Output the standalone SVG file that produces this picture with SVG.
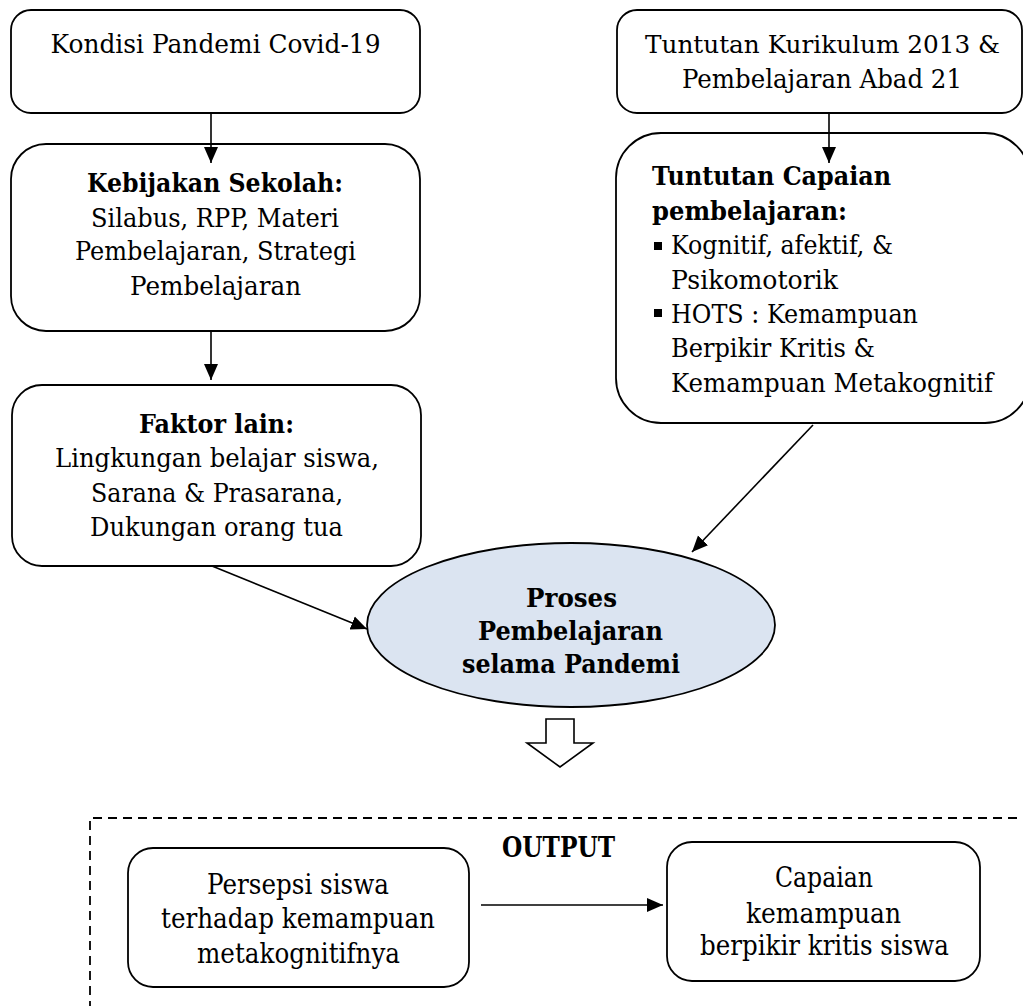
<svg xmlns="http://www.w3.org/2000/svg" width="1023" height="1006" viewBox="0 0 1023 1006">
<defs>
<style>
.box{fill:#fff;stroke:#000;stroke-width:1.8}
.t{font-family:"DejaVu Serif","Liberation Serif",serif;font-size:26.5px;fill:#000}
.s{font-size:27.5px}
.m{font-size:25px}
.c{text-anchor:middle}
.b{font-weight:bold}
.ln{stroke:#000;stroke-width:1.6;fill:none}
.dash{stroke:#000;stroke-width:1.8;fill:none;stroke-dasharray:9 6}
</style>
<marker id="ah" markerUnits="userSpaceOnUse" markerWidth="16" markerHeight="16" viewBox="0 0 16 16" refX="16" refY="8" orient="auto"><path d="M0,1 L16,8 L0,15 Z" fill="#000"/></marker>
<clipPath id="ec"><rect x="300" y="540" width="600" height="134"/></clipPath>
</defs>
<rect width="1023" height="1006" fill="#fff"/>

<g id="kondisi">
<rect class="box" x="11" y="10" width="409" height="103" rx="20"/>
<text class="t c" x="215.5" y="53" textLength="330" lengthAdjust="spacingAndGlyphs">Kondisi Pandemi Covid-19</text>
</g>

<g id="kebijakan">
<rect class="box" x="11" y="144" width="409" height="187" rx="35"/>
<text class="t c b" x="215" y="192" textLength="256" lengthAdjust="spacingAndGlyphs">Kebijakan Sekolah:</text>
<text class="t c" x="215" y="227" textLength="248" lengthAdjust="spacingAndGlyphs">Silabus, RPP, Materi</text>
<text class="t c" x="215.5" y="260" textLength="281" lengthAdjust="spacingAndGlyphs">Pembelajaran, Strategi</text>
<text class="t c" x="215.5" y="295" textLength="171" lengthAdjust="spacingAndGlyphs">Pembelajaran</text>
</g>

<g id="faktor">
<rect class="box" x="12" y="385" width="409" height="181" rx="30"/>
<text class="t c b" x="216.5" y="433" textLength="155" lengthAdjust="spacingAndGlyphs">Faktor lain:</text>
<text class="t c" x="217" y="467" textLength="324" lengthAdjust="spacingAndGlyphs">Lingkungan belajar siswa,</text>
<text class="t c" x="217" y="502" textLength="252" lengthAdjust="spacingAndGlyphs">Sarana &amp; Prasarana,</text>
<text class="t c" x="216.5" y="536" textLength="253" lengthAdjust="spacingAndGlyphs">Dukungan orang tua</text>
</g>

<g id="tuntutan-kurikulum">
<rect class="box" x="617" y="10" width="405" height="103" rx="20"/>
<text class="t m c" x="822.5" y="53" textLength="355" lengthAdjust="spacingAndGlyphs">Tuntutan Kurikulum 2013 &amp;</text>
<text class="t c" x="822" y="88" textLength="280" lengthAdjust="spacingAndGlyphs">Pembelajaran Abad 21</text>
</g>

<g id="tuntutan-capaian">
<rect class="box" x="616" y="133" width="414" height="290" rx="45"/>
<text class="t b" x="652" y="185" textLength="239" lengthAdjust="spacingAndGlyphs">Tuntutan Capaian</text>
<text class="t b" x="652" y="220" textLength="195" lengthAdjust="spacingAndGlyphs">pembelajaran:</text>
<rect x="654" y="242" width="8" height="8" fill="#000"/>
<text class="t" x="671" y="254" textLength="222" lengthAdjust="spacingAndGlyphs">Kognitif, afektif, &amp;</text>
<text class="t" x="671" y="289" textLength="167" lengthAdjust="spacingAndGlyphs">Psikomotorik</text>
<rect x="654" y="309" width="8" height="8" fill="#000"/>
<text class="t" x="671" y="323" textLength="247" lengthAdjust="spacingAndGlyphs">HOTS : Kemampuan</text>
<text class="t" x="671" y="357" textLength="204" lengthAdjust="spacingAndGlyphs">Berpikir Kritis &amp;</text>
<text class="t" x="671" y="392" textLength="322" lengthAdjust="spacingAndGlyphs">Kemampuan Metakognitif</text>
</g>

<g id="proses">
<ellipse cx="571" cy="625" rx="204" ry="82" fill="#dbe4f1" stroke="#000" stroke-width="1.8"/>
<g clip-path="url(#ec)">
<text class="t c b" x="571.5" y="607" textLength="91" lengthAdjust="spacingAndGlyphs">Proses</text>
<text class="t c b" x="570.5" y="640" textLength="185" lengthAdjust="spacingAndGlyphs">Pembelajaran</text>
<text class="t c b" x="571" y="673" textLength="218" lengthAdjust="spacingAndGlyphs">selama Pandemi</text>
</g>
</g>

<g id="output">
<path class="dash" d="M90,1010 V818 H1030"/>
<text class="t s c b" x="558.5" y="857" textLength="113" lengthAdjust="spacingAndGlyphs">OUTPUT</text>
</g>

<g id="persepsi">
<rect class="box" x="128" y="848" width="341" height="139" rx="25"/>
<text class="t s c" x="298" y="894" textLength="182" lengthAdjust="spacingAndGlyphs">Persepsi siswa</text>
<text class="t s c" x="298" y="928" textLength="274" lengthAdjust="spacingAndGlyphs">terhadap kemampuan</text>
<text class="t s c" x="298.5" y="963" textLength="203" lengthAdjust="spacingAndGlyphs">metakognitifnya</text>
</g>

<g id="capaian">
<rect class="box" x="667" y="842" width="313" height="139" rx="25"/>
<text class="t s c" x="824" y="887" textLength="98" lengthAdjust="spacingAndGlyphs">Capaian</text>
<text class="t s c" x="823.5" y="923" textLength="155" lengthAdjust="spacingAndGlyphs">kemampuan</text>
<text class="t s c" x="824.5" y="955" textLength="249" lengthAdjust="spacingAndGlyphs">berpikir kritis siswa</text>
</g>

<g id="connectors">
<line class="ln" x1="211" y1="113" x2="211" y2="163" marker-end="url(#ah)"/>
<line class="ln" x1="211" y1="331" x2="211" y2="380" marker-end="url(#ah)"/>
<line class="ln" x1="829" y1="113" x2="829" y2="163" marker-end="url(#ah)"/>
<line class="ln" x1="212" y1="566" x2="367" y2="629" marker-end="url(#ah)"/>
<line class="ln" x1="813" y1="425" x2="692" y2="552" marker-end="url(#ah)"/>
<line class="ln" x1="481" y1="905" x2="663" y2="905" marker-end="url(#ah)"/>
<polygon points="546,719 574,719 574,743 593,743 560,767 527,743 546,743" fill="#fff" stroke="#000" stroke-width="1.6" stroke-linejoin="miter"/>
</g>
</svg>
